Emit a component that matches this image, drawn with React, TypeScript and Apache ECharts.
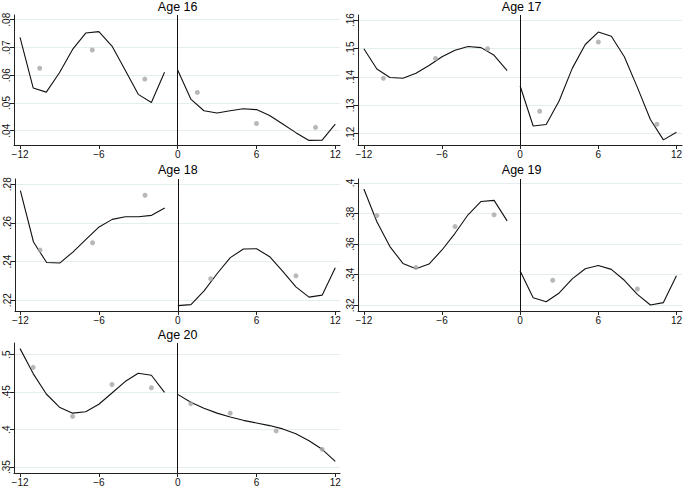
import React, { useEffect, useRef } from "react";
import * as echarts from "echarts";

// ---- data ----
const monthsBefore = [-12, -11, -10, -9, -8, -7, -6, -5, -4, -3, -2, -1];
const monthsAfter = [0, 1, 2, 3, 4, 5, 6, 7, 8, 9, 10, 11, 12];
const xTickLabels = [-12, -6, 0, 6, 12];

const age16Before = [0.0736, 0.0554, 0.0539, 0.0609, 0.0693, 0.0752, 0.0757, 0.0705, 0.0619, 0.0531, 0.0502, 0.0611];
const age16After = [0.0619, 0.0514, 0.0472, 0.0464, 0.0472, 0.0479, 0.0476, 0.0455, 0.0424, 0.0393, 0.0365, 0.0366, 0.0424];
const age16BinX = [-10.5, -6.5, -2.5, 1.5, 6, 10.5];
const age16BinY = [0.0625, 0.0691, 0.0586, 0.0538, 0.0426, 0.0412];
const age16Ticks = [0.04, 0.05, 0.06, 0.07, 0.08];

const age17Before = [0.1499, 0.1428, 0.1398, 0.1395, 0.1413, 0.144, 0.1471, 0.1494, 0.1507, 0.1503, 0.1476, 0.1422];
const age17After = [0.1368, 0.1227, 0.1232, 0.1316, 0.143, 0.1514, 0.1558, 0.1543, 0.1471, 0.1363, 0.125, 0.1178, 0.1205];
const age17BinX = [-10.5, -6.5, -2.5, 1.5, 6, 10.5];
const age17BinY = [0.1395, 0.1465, 0.1499, 0.1279, 0.1523, 0.1233];
const age17Ticks = [0.12, 0.13, 0.14, 0.15, 0.16];

const age18Before = [0.2767, 0.2501, 0.2395, 0.2392, 0.2449, 0.2515, 0.2579, 0.2618, 0.2632, 0.2632, 0.2639, 0.2677];
const age18After = [0.2172, 0.2177, 0.2248, 0.2338, 0.242, 0.2465, 0.2466, 0.2425, 0.2349, 0.2269, 0.2216, 0.2226, 0.2368];
const age18BinX = [-10.5, -6.5, -2.5, 2.5, 9];
const age18BinY = [0.2459, 0.2497, 0.2743, 0.2311, 0.2326];
const age18Ticks = [0.22, 0.24, 0.26, 0.28];

const age19Before = [0.3961, 0.3746, 0.3584, 0.3474, 0.3439, 0.347, 0.3562, 0.3671, 0.3792, 0.3879, 0.3886, 0.3752];
const age19After = [0.3424, 0.325, 0.3224, 0.3281, 0.3373, 0.3439, 0.3461, 0.3435, 0.3364, 0.3272, 0.3202, 0.3218, 0.3393];
const age19BinX = [-11, -8, -5, -2, 2.5, 9];
const age19BinY = [0.3787, 0.3448, 0.3715, 0.3792, 0.3364, 0.3307];
const age19Ticks = [0.32, 0.34, 0.36, 0.38, 0.4];

const age20Before = [0.5079, 0.4746, 0.4474, 0.4298, 0.4219, 0.4237, 0.4338, 0.4487, 0.464, 0.475, 0.4724, 0.4496];
const age20After = [0.4469, 0.4364, 0.4285, 0.4219, 0.4167, 0.4123, 0.4088, 0.4053, 0.4009, 0.3943, 0.3851, 0.3737, 0.3575];
const age20BinX = [-11, -8, -5, -2, 1, 4, 7.5, 11];
const age20BinY = [0.4829, 0.4175, 0.4601, 0.4557, 0.4346, 0.4219, 0.3982, 0.3737];
const age20Ticks = [0.35, 0.4, 0.45, 0.5];

const panelTitles = ["Age 16", "Age 17", "Age 18", "Age 19", "Age 20"];

// ---- layout ----
const FONT = '"Liberation Sans", Arial, Helvetica, sans-serif';
const layouts = [
  { left: 14, top: 15, width: 326, height: 130, xMin: -12.46, xMax: 12.36, yMin: 0.03485, yMax: 0.0817, titleY: 6.5 },
  { left: 358, top: 15, width: 327, height: 130, xMin: -12.45, xMax: 12.43, yMin: 0.116, yMax: 0.1618, titleY: 6.5 },
  { left: 15, top: 179, width: 325, height: 132, xMin: -12.41, xMax: 12.36, yMin: 0.2144, yMax: 0.2827, titleY: 169.5 },
  { left: 358, top: 179, width: 327, height: 132, xMin: -12.45, xMax: 12.43, yMin: 0.3163, yMax: 0.4026, titleY: 169.5 },
  { left: 14, top: 343, width: 326, height: 132, xMin: -12.46, xMax: 12.36, yMin: 0.3421, yMax: 0.5154, titleY: 334.5 },
];

const panelData = [
  { before: age16Before, after: age16After, binX: age16BinX, binY: age16BinY, ticks: age16Ticks },
  { before: age17Before, after: age17After, binX: age17BinX, binY: age17BinY, ticks: age17Ticks },
  { before: age18Before, after: age18After, binX: age18BinX, binY: age18BinY, ticks: age18Ticks },
  { before: age19Before, after: age19After, binX: age19BinX, binY: age19BinY, ticks: age19Ticks },
  { before: age20Before, after: age20After, binX: age20BinX, binY: age20BinY, ticks: age20Ticks },
];

const fmtY = (v: number) => String(+v.toFixed(4)).replace(/^0\./, ".");
const fmtX = (v: number) => (v < 0 ? "\u2212" + Math.abs(v) : String(v));

function buildOption() {
  const grid: any[] = [];
  const xAxis: any[] = [];
  const yAxis: any[] = [];
  const series: any[] = [];
  const graphic: any[] = [];

  panelData.forEach((p, i) => {
    const L = layouts[i];
    grid.push({ left: L.left, top: L.top, width: L.width, height: L.height, containLabel: false });
    xAxis.push({
      type: "value",
      gridIndex: i,
      min: L.xMin,
      max: L.xMax,
      axisLine: { show: true, onZero: false, lineStyle: { color: "#222", width: 1 } },
      axisTick: { show: true, length: 4, customValues: xTickLabels, lineStyle: { color: "#222" } },
      axisLabel: {
        show: true,
        customValues: xTickLabels,
        formatter: fmtX,
        fontFamily: FONT,
        fontSize: 10,
        color: "#111",
        margin: 4,
      },
      splitLine: { show: false },
    });
    yAxis.push({
      type: "value",
      gridIndex: i,
      min: L.yMin,
      max: L.yMax,
      axisLine: { show: true, onZero: false, lineStyle: { color: "#222", width: 1 } },
      axisTick: { show: true, length: 4, customValues: p.ticks, lineStyle: { color: "#222" } },
      axisLabel: {
        show: true,
        customValues: p.ticks,
        formatter: fmtY,
        rotate: 90,
        fontFamily: FONT,
        fontSize: 10,
        color: "#111",
        margin: 3,
      },
      splitLine: { show: true, lineStyle: { color: "#e4eef0", width: 1 } },
    });
    series.push({
      type: "line",
      xAxisIndex: i,
      yAxisIndex: i,
      data: monthsBefore.map((m, k) => [m, p.before[k]]),
      showSymbol: false,
      lineStyle: { color: "#111", width: 1.1 },
      markLine: {
        silent: true,
        symbol: "none",
        label: { show: false },
        lineStyle: { color: "#111", width: 1, type: "solid" },
        data: [{ xAxis: 0 }],
      },
      z: 3,
    });
    series.push({
      type: "line",
      xAxisIndex: i,
      yAxisIndex: i,
      data: monthsAfter.map((m, k) => [m, p.after[k]]),
      showSymbol: false,
      lineStyle: { color: "#111", width: 1.1 },
      z: 3,
    });
    series.push({
      type: "scatter",
      xAxisIndex: i,
      yAxisIndex: i,
      data: p.binX.map((x, k) => [x, p.binY[k]]),
      symbol: "circle",
      symbolSize: 5,
      itemStyle: { color: "#a6a6a6" },
      z: 4,
    });
    const zeroX = L.left + ((0 - L.xMin) / (L.xMax - L.xMin)) * L.width;
    graphic.push({
      type: "text",
      x: zeroX,
      y: L.titleY,
      style: {
        text: panelTitles[i],
        textAlign: "center",
        textVerticalAlign: "middle",
        fontSize: 12.5,
        fontFamily: FONT,
        fill: "#000",
      },
    });
  });

  return {
    animation: false,
    backgroundColor: "#ffffff",
    grid,
    xAxis,
    yAxis,
    series,
    graphic,
  };
}

export default function App() {
  const ref = useRef<HTMLDivElement>(null);
  useEffect(() => {
    if (!ref.current) return;
    const chart = echarts.init(ref.current, undefined, { renderer: "svg" });
    chart.setOption(buildOption() as any);
    return () => chart.dispose();
  }, []);
  return (
    <div
      ref={ref}
      style={{ position: "fixed", left: 0, top: 0, width: 685, height: 487, background: "#fff" }}
    />
  );
}
